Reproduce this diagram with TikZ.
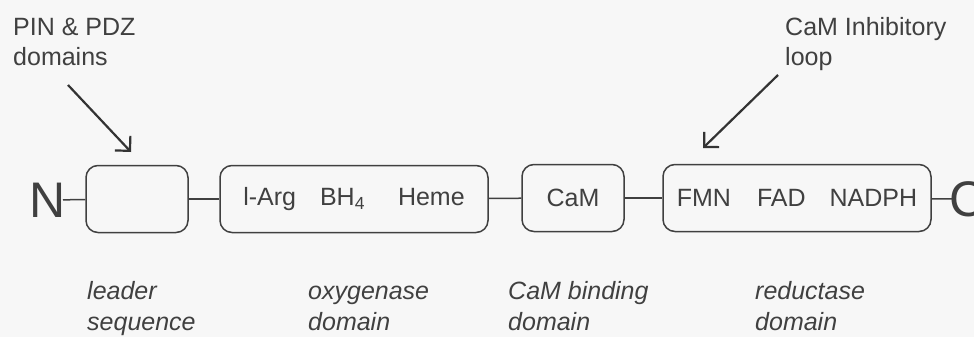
\documentclass[tikz,border=0pt]{standalone}
\usepackage{fontspec}
\setmainfont{Liberation Sans}
\usetikzlibrary{arrows.meta}

\begin{document}
\begin{tikzpicture}[x=1pt,y=-1pt,
  dom/.style={draw=black!75,line width=1.5pt,rounded corners=12pt,minimum height=67pt,inner sep=0pt,font=\fontsize{25}{30}\selectfont,text=black!75},
  term/.style={inner sep=0pt,inner xsep=-3pt,font=\fontsize{50}{50}\selectfont,text=black!75},
  link/.style={draw=black!75,line width=1.5pt},
  callout/.style={draw=black!80,line width=2.2pt,-{Straight Barb[angle=90:15pt]}},
  lab/.style={anchor=base west,inner sep=0pt,align=left,text=black!75,font=\fontsize{25}{30}\selectfont},
  sub/.style={lab,font=\fontsize{25}{31}\selectfont\itshape}]
\fill[gray!6] (0,0) rectangle (974,337);
\useasboundingbox (0,0) rectangle (974,337);
\node[lab] (pinlab) at (13,66) {PIN \& PDZ\\domains};
\node[lab] (inhlab) at (785,66) {CaM Inhibitory\\loop};
\node[term,anchor=east] (nterm) at (63,200) {N};
\node[dom,minimum width=102pt] (lead) at (137,199) {};
\node[dom,minimum width=268pt] (oxy) at (354,199) {l-Arg\hspace{24pt}BH\textsubscript{4}\hspace{33pt}Heme};
\node[dom,minimum width=102pt] (cam) at (573,198) {CaM};
\node[dom,minimum width=268pt] (red) at (797,198) {FMN\hspace{26pt}FAD\hspace{24pt}NADPH};
\node[term,anchor=west] (cterm) at (952,199) {C};
\draw[link] (nterm) -- (lead);
\draw[link] (lead) -- (oxy);
\draw[link] (oxy) -- (cam);
\draw[link] (cam) -- (red);
\draw[link] (red) -- (cterm);
\coordinate (pintail) at (68,85);
\coordinate (pintip) at (131,152);
\coordinate (inhtail) at (778,75);
\coordinate (inhtip) at (703,148);
\draw[callout] (pintail) -- (pintip);
\draw[callout] (inhtail) -- (inhtip);
\node[sub] (leadlab) at (87,330) {leader\\sequence};
\node[sub] (oxylab) at (308,330) {oxygenase\\domain};
\node[sub] (camlab) at (508,330) {CaM binding\\domain};
\node[sub] (redlab) at (755,330) {reductase\\domain};
\end{tikzpicture}
\end{document}
